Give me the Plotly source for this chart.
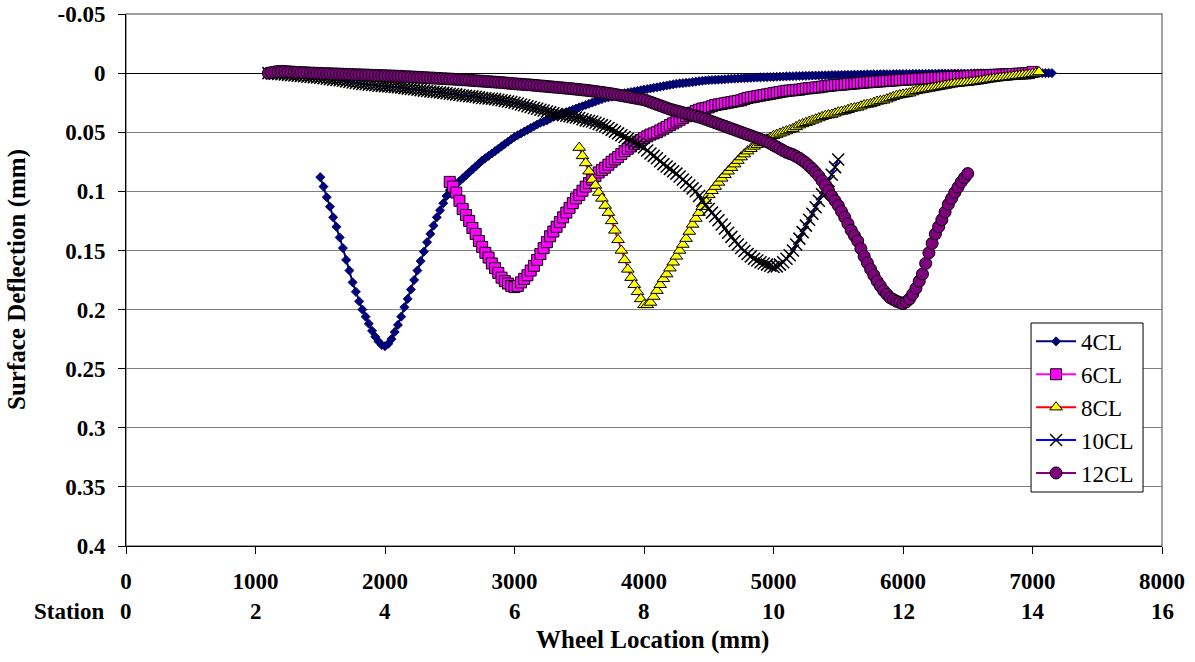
import plotly.graph_objects as go

# ---------------- data (wheel location in mm, surface deflection in mm) ----------------
# each series is sampled every STEP mm starting at its X0
STEP = 25

X0_4CL = 1500
Y_4CL = [
    0.088, 0.096, 0.105, 0.113, 0.122, 0.130, 0.139, 0.148,          # 1500
    0.158, 0.167, 0.177, 0.185, 0.193, 0.200, 0.206, 0.212,          # 1700
    0.218, 0.223, 0.227, 0.230, 0.231, 0.229, 0.225, 0.219,          # 1900
    0.213, 0.206, 0.198, 0.191, 0.183, 0.175, 0.167, 0.159,          # 2100
    0.151, 0.143, 0.136, 0.129, 0.122, 0.116, 0.110, 0.104,          # 2300
    0.099, 0.0965, 0.094, 0.0915, 0.089, 0.0865, 0.084, 0.0815,      # 2500
    0.079, 0.0765, 0.074, 0.072, 0.070, 0.068, 0.066, 0.064,         # 2700
    0.062, 0.060, 0.058, 0.056, 0.054, 0.0525, 0.051, 0.0495,        # 2900
    0.048, 0.0465, 0.045, 0.0435, 0.042, 0.041, 0.040, 0.0385,       # 3100
    0.037, 0.036, 0.035, 0.034, 0.033, 0.032, 0.031, 0.030,          # 3300
    0.029, 0.028, 0.027, 0.026, 0.025, 0.024, 0.023, 0.022,          # 3500
    0.021, 0.0205, 0.020, 0.019, 0.018, 0.0175, 0.017, 0.0165,       # 3700
    0.016, 0.0155, 0.015, 0.0145, 0.014, 0.0135, 0.013, 0.0125,      # 3900
    0.012, 0.0115, 0.011, 0.0105, 0.010, 0.0095, 0.009, 0.0087,      # 4100
    0.0085, 0.0082, 0.008, 0.0076, 0.0072, 0.0068, 0.0065, 0.0062,   # 4300
    0.006, 0.0058, 0.0057, 0.0055, 0.0054, 0.0052, 0.005, 0.0048,    # 4500
    0.0047, 0.0045, 0.0044, 0.0042, 0.0041, 0.004, 0.0039, 0.0037,   # 4700
    0.0036, 0.0035, 0.0034, 0.0033, 0.0032, 0.0031, 0.003, 0.0029,   # 4900
    0.0028, 0.0027, 0.0026, 0.0025, 0.0024, 0.0023, 0.0023, 0.0022,  # 5100
    0.0021, 0.002, 0.002, 0.0019, 0.0019, 0.0018, 0.0017, 0.0016,    # 5300
    0.0016, 0.0015, 0.0015, 0.0014, 0.0014, 0.0013, 0.0013, 0.0012,  # 5500
    0.0012, 0.0011, 0.0011, 0.001, 0.001, 0.0009, 0.0009, 0.0009,    # 5700
    0.0009, 0.0008, 0.0008, 0.0007, 0.0007, 0.0007, 0.0007, 0.0006,  # 5900
    0.0006, 0.0006, 0.0006, 0.0005, 0.0005, 0.0005, 0.0005, 0.0004,  # 6100
    0.0004, 0.0004, 0.0004, 0.0003, 0.0003, 0.0003, 0.0003, 0.0003,  # 6300
    0.0003, 0.0002, 0.0002, 0.0002, 0.0002, 0.0002, 0.0002, 0.0001,  # 6500
    0.0001, 0.0001, 0.0001, 0.0001, 0.0001, 0.0001, 0.0001, 0.0,     # 6700
    0.0, 0.0, 0.0, 0.0, 0.0, 0.0, 0.0, 0.0,                          # 6900
    0.0, 0.0, 0.0,                                                   # 7100
]

X0_6CL = 2500
Y_6CL = [
    0.092, 0.096, 0.101, 0.108, 0.115, 0.120, 0.125, 0.131,          # 2500
    0.136, 0.142, 0.147, 0.152, 0.156, 0.161, 0.165, 0.169,          # 2700
    0.173, 0.176, 0.178, 0.180, 0.181, 0.180, 0.177, 0.174,          # 2900
    0.171, 0.167, 0.163, 0.158, 0.153, 0.148, 0.143, 0.138,          # 3100
    0.134, 0.130, 0.126, 0.122, 0.118, 0.114, 0.110, 0.106,          # 3300
    0.103, 0.0995, 0.096, 0.093, 0.090, 0.087, 0.084, 0.082,         # 3500
    0.080, 0.0775, 0.075, 0.073, 0.071, 0.0685, 0.066, 0.064,        # 3700
    0.062, 0.060, 0.058, 0.0565, 0.055, 0.0535, 0.052, 0.051,        # 3900
    0.050, 0.0485, 0.047, 0.0455, 0.044, 0.0425, 0.041, 0.0395,      # 4100
    0.038, 0.0365, 0.035, 0.0335, 0.032, 0.031, 0.030, 0.0295,       # 4300
    0.029, 0.028, 0.027, 0.0265, 0.026, 0.0255, 0.025, 0.0245,       # 4500
    0.024, 0.0235, 0.023, 0.022, 0.021, 0.0205, 0.020, 0.0195,       # 4700
    0.019, 0.0185, 0.018, 0.0175, 0.017, 0.0165, 0.016, 0.0155,      # 4900
    0.015, 0.0148, 0.0145, 0.0142, 0.014, 0.0135, 0.013, 0.0128,     # 5100
    0.0125, 0.0122, 0.012, 0.0115, 0.011, 0.0108, 0.0105, 0.0102,    # 5300
    0.010, 0.0098, 0.0095, 0.0092, 0.009, 0.0088, 0.0085, 0.0082,    # 5500
    0.008, 0.0078, 0.0076, 0.0074, 0.0072, 0.007, 0.0068, 0.0066,    # 5700
    0.0064, 0.0062, 0.006, 0.0058, 0.0057, 0.0055, 0.0053, 0.0052,   # 5900
    0.005, 0.0048, 0.0047, 0.0045, 0.0044, 0.0042, 0.0041, 0.0039,   # 6100
    0.0038, 0.0036, 0.0035, 0.0033, 0.0032, 0.0031, 0.003, 0.0028,   # 6300
    0.0027, 0.0025, 0.0024, 0.0022, 0.0021, 0.002, 0.0019, 0.0017,   # 6500
    0.0016, 0.0014, 0.0013, 0.0012, 0.0011, 0.0009, 0.0008, 0.0006,  # 6700
    0.0005, 0.0003, 0.0002, 0.0, -0.001,                             # 6900
]

X0_8CL = 3500
Y_8CL = [
    0.063, 0.070, 0.076, 0.083, 0.090, 0.095, 0.101, 0.106,          # 3500
    0.112, 0.118, 0.125, 0.133, 0.141, 0.150, 0.158, 0.166,          # 3700
    0.173, 0.179, 0.185, 0.191, 0.196, 0.196, 0.194, 0.189,          # 3900
    0.184, 0.179, 0.174, 0.170, 0.165, 0.160, 0.155, 0.150,          # 4100
    0.145, 0.140, 0.134, 0.128, 0.123, 0.118, 0.113, 0.108,          # 4300
    0.103, 0.0995, 0.096, 0.0925, 0.089, 0.086, 0.083, 0.080,        # 4500
    0.077, 0.074, 0.071, 0.0685, 0.066, 0.064, 0.062, 0.0605,        # 4700
    0.059, 0.0575, 0.056, 0.0545, 0.053, 0.052, 0.051, 0.050,        # 4900
    0.049, 0.048, 0.047, 0.0455, 0.044, 0.043, 0.042, 0.041,         # 5100
    0.040, 0.039, 0.038, 0.037, 0.036, 0.0355, 0.035, 0.034,         # 5300
    0.033, 0.0325, 0.032, 0.031, 0.030, 0.0295, 0.029, 0.028,        # 5500
    0.027, 0.0265, 0.026, 0.025, 0.024, 0.0235, 0.023, 0.022,        # 5700
    0.021, 0.020, 0.019, 0.0185, 0.018, 0.0175, 0.017, 0.016,        # 5900
    0.015, 0.0145, 0.014, 0.0135, 0.013, 0.0125, 0.012, 0.0115,      # 6100
    0.011, 0.0105, 0.010, 0.0095, 0.009, 0.0088, 0.0085, 0.0082,     # 6300
    0.008, 0.0076, 0.0073, 0.0069, 0.0065, 0.006, 0.0055, 0.0051,    # 6500
    0.0047, 0.0044, 0.004, 0.0037, 0.0034, 0.003, 0.0027, 0.0023,    # 6700
    0.002, 0.0016, 0.0013, 0.001, 0.0006, 0.0, -0.001,               # 6900
]

X0_10CL = 1100
Y_10CL = [
    0.000, 0.0002, 0.0005, 0.0007, 0.001, 0.0012, 0.0015, 0.0017,    # 1100
    0.002, 0.0022, 0.0025, 0.0027, 0.003, 0.0032, 0.0035, 0.0037,    # 1300
    0.004, 0.0043, 0.0047, 0.0051, 0.0055, 0.0057, 0.006, 0.0065,    # 1500
    0.007, 0.0075, 0.008, 0.0084, 0.0088, 0.0092, 0.0095, 0.0098,    # 1700
    0.010, 0.0103, 0.0107, 0.0108, 0.011, 0.0112, 0.0115, 0.0118,    # 1900
    0.012, 0.0123, 0.0127, 0.0131, 0.0135, 0.0137, 0.014, 0.0144,    # 2100
    0.0148, 0.0152, 0.0155, 0.0157, 0.016, 0.0163, 0.0167, 0.0171,   # 2300
    0.0175, 0.0177, 0.018, 0.0185, 0.019, 0.0192, 0.0195, 0.0197,    # 2500
    0.020, 0.0205, 0.021, 0.0212, 0.0215, 0.0217, 0.022, 0.0225,     # 2700
    0.023, 0.0235, 0.024, 0.0245, 0.025, 0.0257, 0.0265, 0.0272,     # 2900
    0.028, 0.0287, 0.0295, 0.0302, 0.031, 0.0317, 0.0325, 0.0332,    # 3100
    0.034, 0.0346, 0.0352, 0.0356, 0.036, 0.0365, 0.037, 0.0375,     # 3300
    0.038, 0.039, 0.040, 0.0405, 0.041, 0.042, 0.043, 0.044,         # 3500
    0.045, 0.0465, 0.048, 0.0495, 0.051, 0.0525, 0.054, 0.0555,      # 3700
    0.057, 0.0585, 0.060, 0.0615, 0.063, 0.0655, 0.068, 0.070,       # 3900
    0.072, 0.0745, 0.077, 0.079, 0.081, 0.083, 0.085, 0.0875,        # 4100
    0.090, 0.0925, 0.095, 0.0975, 0.100, 0.104, 0.108, 0.1115,       # 4300
    0.115, 0.118, 0.121, 0.1245, 0.128, 0.1315, 0.135, 0.1385,       # 4500
    0.142, 0.145, 0.148, 0.1505, 0.153, 0.155, 0.157, 0.1585,        # 4700
    0.160, 0.161, 0.162, 0.163, 0.164, 0.1635, 0.162, 0.160,         # 4900
    0.157, 0.154, 0.150, 0.145, 0.140, 0.1345, 0.129, 0.124,         # 5100
    0.119, 0.1135, 0.108, 0.1025, 0.097, 0.0915, 0.086, 0.0795,      # 5300
    0.073,                                                           # 5500
]

X0_12CL = 1100
Y_12CL = [
    0.000, -0.0005, -0.001, -0.0013, -0.0015, -0.0014, -0.0012, -0.001,   # 1100
    -0.0008, -0.0006, -0.0005, -0.0004, -0.0003, -0.0001, 0.0, 0.0001,    # 1300
    0.0002, 0.0003, 0.0004, 0.0005, 0.0006, 0.0007, 0.0008, 0.0009,       # 1500
    0.001, 0.0011, 0.0012, 0.0013, 0.0014, 0.0015, 0.0016, 0.0017,        # 1700
    0.0018, 0.0019, 0.002, 0.0021, 0.0022, 0.0023, 0.0024, 0.0025,        # 1900
    0.0026, 0.0027, 0.0029, 0.003, 0.0032, 0.0033, 0.0035, 0.0036,        # 2100
    0.0038, 0.0039, 0.0041, 0.0042, 0.0044, 0.0045, 0.0047, 0.0048,       # 2300
    0.005, 0.0051, 0.0053, 0.0055, 0.0057, 0.0058, 0.006, 0.0062,         # 2500
    0.0064, 0.0066, 0.0068, 0.007, 0.0072, 0.0074, 0.0076, 0.0078,        # 2700
    0.008, 0.0082, 0.0085, 0.0087, 0.009, 0.0092, 0.0094, 0.0096,         # 2900
    0.0098, 0.010, 0.0103, 0.0105, 0.0108, 0.011, 0.0113, 0.0115,         # 3100
    0.0118, 0.012, 0.0123, 0.0125, 0.0128, 0.013, 0.0133, 0.0136,         # 3300
    0.0139, 0.0142, 0.0145, 0.0148, 0.0152, 0.0155, 0.0159, 0.0163,       # 3500
    0.0167, 0.0171, 0.0175, 0.018, 0.0185, 0.019, 0.0195, 0.020,          # 3700
    0.0205, 0.021, 0.0215, 0.022, 0.0225, 0.0235, 0.0245, 0.0255,         # 3900
    0.0265, 0.0275, 0.0285, 0.0295, 0.0305, 0.0312, 0.032, 0.0327,        # 4100
    0.0335, 0.0342, 0.035, 0.0357, 0.0365, 0.0372, 0.038, 0.039,          # 4300
    0.040, 0.041, 0.042, 0.043, 0.044, 0.045, 0.046, 0.047,               # 4500
    0.048, 0.049, 0.050, 0.051, 0.052, 0.053, 0.054, 0.055,               # 4700
    0.056, 0.057, 0.058, 0.0595, 0.061, 0.0625, 0.064, 0.0655,            # 4900
    0.067, 0.068, 0.069, 0.0705, 0.072, 0.074, 0.076, 0.0785,             # 5100
    0.081, 0.084, 0.087, 0.091, 0.095, 0.0995, 0.104, 0.108,              # 5300
    0.112, 0.117, 0.122, 0.1275, 0.133, 0.1375, 0.142, 0.1485,            # 5500
    0.155, 0.1605, 0.166, 0.171, 0.176, 0.180, 0.184, 0.187,              # 5700
    0.190, 0.1915, 0.193, 0.194, 0.195, 0.1935, 0.191, 0.187,             # 5900
    0.182, 0.176, 0.170, 0.161, 0.152, 0.144, 0.136, 0.130,               # 6100
    0.124, 0.1175, 0.111, 0.106, 0.101, 0.0965, 0.092, 0.0885,            # 6300
    0.085,                                                                # 6500
]

SERIES_NAMES = ["4CL", "6CL", "8CL", "10CL", "12CL"]

X_TICKS = [0, 1000, 2000, 3000, 4000, 5000, 6000, 7000, 8000]
STATIONS = ["0", "2", "4", "6", "8", "10", "12", "14", "16"]
Y_TICKS = [-0.05, 0, 0.05, 0.1, 0.15, 0.2, 0.25, 0.3, 0.35, 0.4]
Y_TICK_TEXT = ["-0.05", "0", "0.05", "0.1", "0.15", "0.2", "0.25", "0.3", "0.35", "0.4"]

# ---------------- styles ----------------
FONT = "Liberation Serif, Times New Roman, serif"
FS = 23
FS_TITLE = 25

styles = {
    "4CL": dict(line=dict(color="#000080", width=2),
                marker=dict(symbol="diamond", size=7, color="#000080",
                            line=dict(color="#000040", width=0.8))),
    "6CL": dict(line=dict(color="#FF00FF", width=2),
                marker=dict(symbol="square", size=11, color="#FF00FF",
                            line=dict(color="black", width=1))),
    "8CL": dict(line=dict(color="#FF0000", width=2),
                marker=dict(symbol="triangle-up", size=11, color="#FFFF00",
                            line=dict(color="black", width=1))),
    "10CL": dict(line=dict(color="#0000FF", width=2),
                 marker=dict(symbol="x-thin", size=12, color="black",
                             line=dict(color="black", width=1.5))),
    "12CL": dict(line=dict(color="#800080", width=2),
                 marker=dict(symbol="circle", size=12, color="#800080",
                             line=dict(color="black", width=1))),
}

data = [(X0_4CL, Y_4CL), (X0_6CL, Y_6CL), (X0_8CL, Y_8CL), (X0_10CL, Y_10CL), (X0_12CL, Y_12CL)]

fig = go.Figure()
for name, (x0, ys) in zip(SERIES_NAMES, data):
    xs = [x0 + STEP * k for k in range(len(ys))]
    fig.add_trace(go.Scatter(x=xs, y=ys, name=name, mode="lines+markers",
                             legendgroup=name, **styles[name]))

shapes = [
    # grey plot-area frame
    dict(type="rect", xref="paper", yref="paper", x0=0, y0=0, x1=1, y1=1,
         line=dict(color="#808080", width=1.5), layer="below"),
    # legend box
    dict(type="rect", xref="paper", yref="paper", x0=0.8736, y0=0.1015, x1=0.9817, y1=0.4192,
         line=dict(color="black", width=1), fillcolor="white", layer="above"),
]

ann = []
for xv, st in zip(X_TICKS, STATIONS):
    ann.append(dict(x=xv, y=-0.124, xref="x", yref="paper", text=st, showarrow=False,
                    xanchor="center", yanchor="middle",
                    font=dict(family=FONT, size=FS, color="black", weight="bold")))
ann.append(dict(x=-0.0183, y=-0.124, xref="paper", yref="paper", text="Station",
                showarrow=False, xanchor="right", yanchor="middle",
                font=dict(family=FONT, size=FS, color="black", weight="bold")))
ann.append(dict(x=0.508, y=-0.1767, xref="paper", yref="paper", text="Wheel Location (mm)",
                showarrow=False, xanchor="center", yanchor="middle",
                font=dict(family=FONT, size=FS_TITLE, color="black", weight="bold")))
ann.append(dict(x=-0.1052, y=0.5, xref="paper", yref="paper", text="Surface Deflection (mm)",
                showarrow=False, xanchor="center", yanchor="middle", textangle=-90,
                font=dict(family=FONT, size=FS_TITLE, color="black", weight="bold")))

fig.update_layout(
    width=1195, height=662,
    margin=dict(l=126, r=33, t=14, b=116, autoexpand=False),
    plot_bgcolor="white", paper_bgcolor="white",
    font=dict(family=FONT, size=FS, color="black"),
    annotations=ann,
    shapes=shapes,
    showlegend=True,
    legend=dict(x=0.8736, y=0.425, xanchor="left", yanchor="top",
                bgcolor="rgba(0,0,0,0)", borderwidth=0, itemwidth=40,
                font=dict(family=FONT, size=FS, color="black"),
                tracegroupgap=5, traceorder="normal"),
)

fig.update_xaxes(range=[0, 8000], tickvals=X_TICKS, ticktext=[str(v) for v in X_TICKS],
                 automargin=False,
                 showgrid=False, zeroline=False, showline=True, linecolor="black", linewidth=1,
                 ticks="outside", ticklen=7, tickcolor="black", tickwidth=1,
                 tickfont=dict(family=FONT, size=FS, color="black", weight="bold"),
                 ticklabelstandoff=7)
fig.update_yaxes(range=[0.4, -0.05], tickvals=Y_TICKS, ticktext=Y_TICK_TEXT,
                 automargin=False,
                 showgrid=True, gridcolor="#808080", gridwidth=1,
                 zeroline=True, zerolinecolor="black", zerolinewidth=1,
                 showline=True, linecolor="black", linewidth=1,
                 ticks="outside", ticklen=7, tickcolor="black", tickwidth=1,
                 tickfont=dict(family=FONT, size=FS, color="black", weight="bold"),
                 ticklabelstandoff=8)

fig.write_html("out.html")
